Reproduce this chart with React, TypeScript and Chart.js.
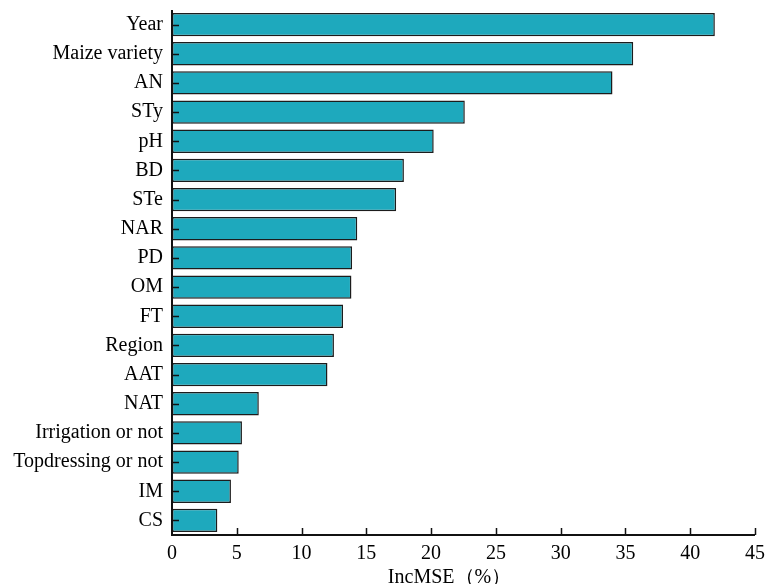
import React, { useEffect, useRef } from "react";
import { Chart, registerables } from "chart.js";

Chart.register(...registerables);

// Variable importance (%IncMSE) from the random forest model
const factors = [
  "Year",
  "Maize variety",
  "AN",
  "STy",
  "pH",
  "BD",
  "STe",
  "NAR",
  "PD",
  "OM",
  "FT",
  "Region",
  "AAT",
  "NAT",
  "Irrigation or not",
  "Topdressing or not",
  "IM",
  "CS",
];
const incMSE = [
  41.9, 35.6, 34.0, 22.6, 20.2, 17.9, 17.3, 14.3, 13.9, 13.85, 13.2, 12.5,
  12.0, 6.7, 5.4, 5.15, 4.55, 3.5,
];
const xTicks = [0, 5, 10, 15, 20, 25, 30, 35, 40, 45];
const axisTitle = "IncMSE（%）";

const FONT = "'Liberation Serif', 'Times New Roman', serif";

// Draws inward tick marks on both axes, the axis lines and the axis title
const innerTicks = {
  id: "innerTicks",
  afterDatasetsDraw(chart: any) {
    const { ctx, chartArea, scales } = chart;
    const x = scales.x;
    const y = scales.y;
    ctx.save();
    ctx.strokeStyle = "#111";
    ctx.lineWidth = 1.5;
    ctx.beginPath();
    x.ticks.forEach((_t: any, i: number) => {
      if (i === 0) return;
      const px = Math.round(x.getPixelForTick(i)) + 0.5;
      ctx.moveTo(px, chartArea.bottom);
      ctx.lineTo(px, chartArea.bottom - 7);
    });
    y.ticks.forEach((_t: any, i: number) => {
      const py = Math.round(y.getPixelForTick(i)) + 0.5;
      ctx.moveTo(chartArea.left, py);
      ctx.lineTo(chartArea.left + 7, py);
    });
    ctx.stroke();
    ctx.lineWidth = 2;
    ctx.beginPath();
    ctx.moveTo(chartArea.left, chartArea.top);
    ctx.lineTo(chartArea.left, chartArea.bottom);
    ctx.lineTo(chartArea.right, chartArea.bottom);
    ctx.stroke();
    ctx.fillStyle = "#000";
    ctx.font = `20px ${FONT}`;
    ctx.textAlign = "center";
    ctx.textBaseline = "middle";
    ctx.fillText(axisTitle, (chartArea.left + chartArea.right) / 2 - 14, 578);
    ctx.restore();
  },
};

export default function App() {
  const canvasRef = useRef<HTMLCanvasElement | null>(null);

  useEffect(() => {
    if (!canvasRef.current) return;
    const chart = new Chart(canvasRef.current, {
      type: "bar",
      data: {
        labels: factors,
        datasets: [
          {
            data: incMSE,
            backgroundColor: "#1EA9BD",
            borderColor: "#1c1c1c",
            borderWidth: 1.5,
            borderSkipped: false,
            barPercentage: 0.8,
            categoryPercentage: 1,
          },
        ],
      },
      options: {
        indexAxis: "y",
        animation: false,
        responsive: true,
        maintainAspectRatio: false,
        layout: { padding: { top: 10, right: 11, bottom: 0, left: 0 } },
        plugins: {
          legend: { display: false },
          tooltip: { enabled: false },
        },
        scales: {
          x: {
            min: 0,
            max: 45,
            afterBuildTicks: (scale: any) => {
              scale.ticks = xTicks.map((v) => ({ value: v }));
            },
            afterFit: (scale: any) => {
              scale.height = 49;
              scale.paddingLeft = 0;
              scale.paddingRight = 0;
            },
            grid: { display: false, drawTicks: false },
            border: { display: false },
            ticks: {
              color: "#000",
              padding: 7,
              font: { family: FONT, size: 20 },
              maxRotation: 0,
            },
          },
          y: {
            afterFit: (scale: any) => {
              scale.width = 172;
              scale.paddingTop = 0;
              scale.paddingBottom = 0;
            },
            grid: { display: false, drawTicks: false },
            border: { display: false },
            ticks: {
              color: "#000",
              padding: 9,
              font: { family: FONT, size: 20 },
            },
          },
        },
      },
      plugins: [innerTicks],
    });
    return () => chart.destroy();
  }, []);

  return (
    <div
      style={{
        position: "fixed",
        left: 0,
        top: 0,
        width: 766,
        height: 584,
        background: "#fff",
      }}
    >
      <canvas ref={canvasRef} />
    </div>
  );
}
